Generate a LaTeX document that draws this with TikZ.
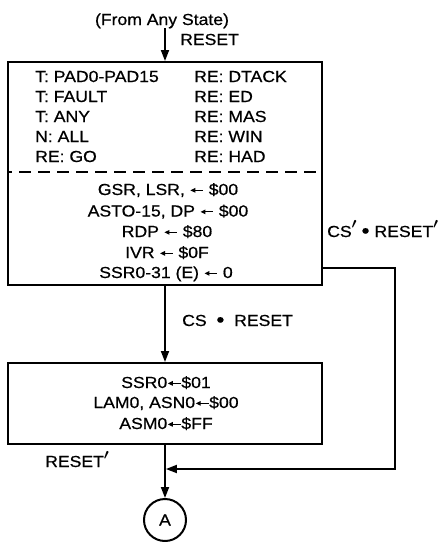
\documentclass[tikz,border=0pt]{standalone}
\usepackage{fontspec}
\setmainfont{Liberation Sans}[FakeStretch=1.1,FakeBold=0.6]
\usetikzlibrary{arrows.meta}
\usepackage{amsmath}
\newcommand\larr{\tikz[baseline=-0.55ex]\draw[line width=1.1pt,{Triangle[length=5pt,width=4.5pt]}-](0pt,0pt)--(13pt,0pt);}
\newcommand\myprime{\raisebox{0.5em}{\fontsize{14}{14}\selectfont$\boldsymbol{\prime}$}}
\newcommand\bdot{\raisebox{-0.05em}{\scalebox{1.3}{\textbullet}}}
\begin{document}
\begin{tikzpicture}[x=1pt,y=-1pt,
  txt/.style={inner sep=0pt,font=\fontsize{16}{18}\selectfont},
  lbl/.style={txt,anchor=base west},
  ctr/.style={txt,anchor=base},
  box/.style={draw,line width=2pt,inner sep=0pt,minimum width=314pt},
  conn/.style={line width=1.8pt},
  tip/.style={-{Triangle[length=11pt,width=8pt]}}]
\useasboundingbox (0,0) rectangle (441,542);

% top entry
\node[ctr] (from) at (162,25) {(From Any State)};
\node[lbl] (rst) at (180,45) {RESET};
\coordinate (top) at (165,28);

% box 1
\node[box,minimum height=223pt] (b1) at (165,173.5) {};
\draw[conn,tip] (top) -- (b1.north);
\coordinate (dl) at (8,172);
\coordinate (dr) at (322,172);
\draw[line width=2pt,dash pattern=on 12pt off 7pt,dash phase=8pt] (dl) -- (dr);

\node[lbl] (t1) at (35,82) {T:\ PAD0-PAD15};
\node[lbl] (t2) at (35,102) {T:\ FAULT};
\node[lbl] (t3) at (35,122) {T:\ ANY};
\node[lbl] (t4) at (35,142) {N:\ ALL};
\node[lbl] (t5) at (35,162) {RE:\ GO};
\node[lbl] (r1t) at (194,82) {RE:\ DTACK};
\node[lbl] (r2t) at (194,102) {RE:\ ED};
\node[lbl] (r3t) at (194,122) {RE:\ MAS};
\node[lbl] (r4t) at (194,142) {RE:\ WIN};
\node[lbl] (r5t) at (194,162) {RE:\ HAD};

\node[ctr] (a1) at (168,195) {GSR, LSR, \larr\ \$00};
\node[ctr] (a2) at (168,216.5) {ASTO-15, DP \larr\ \$00};
\node[ctr] (a3) at (167,237) {RDP \larr\ \$80};
\node[ctr] (a4) at (167,258) {IVR \larr\ \$0F};
\node[ctr] (a5) at (166,278) {SSR0-31 (E) \larr\ 0};

% box 2
\node[box,minimum height=81pt] (b2) at (165,403.5) {};
\draw[conn,tip] (b1.south) -- (b2.north);
\node[lbl] (cs) at (182,326) {CS \ \bdot\ \ RESET};

\node[ctr] (c1) at (166,388) {SSR0\larr\$01};
\node[ctr] (c2) at (166,408) {LAM0, ASN0\larr\$00};
\node[ctr] (c3) at (166,429) {ASM0\larr\$FF};

% circle
\node[draw,circle,line width=2pt,minimum size=42pt,inner sep=0pt,font=\fontsize{16}{18}\selectfont] (A) at (165,520) {A};
\draw[conn,tip] (b2.south) -- (A.north);
\node[lbl] (rp) at (45,467) {RESET\myprime};

% loop
\coordinate (l1) at (395,268);
\coordinate (l2) at (395,469);
\coordinate (j) at (165,469);
\draw[conn,tip,shorten >=0.9pt] (b1.east |- l1) -- (l1) -- (l2) -- (j);
\node[lbl] (csr) at (327,237) {\resizebox{111pt}{!}{CS\myprime\ \bdot\ RESET\myprime}};
\end{tikzpicture}
\end{document}
